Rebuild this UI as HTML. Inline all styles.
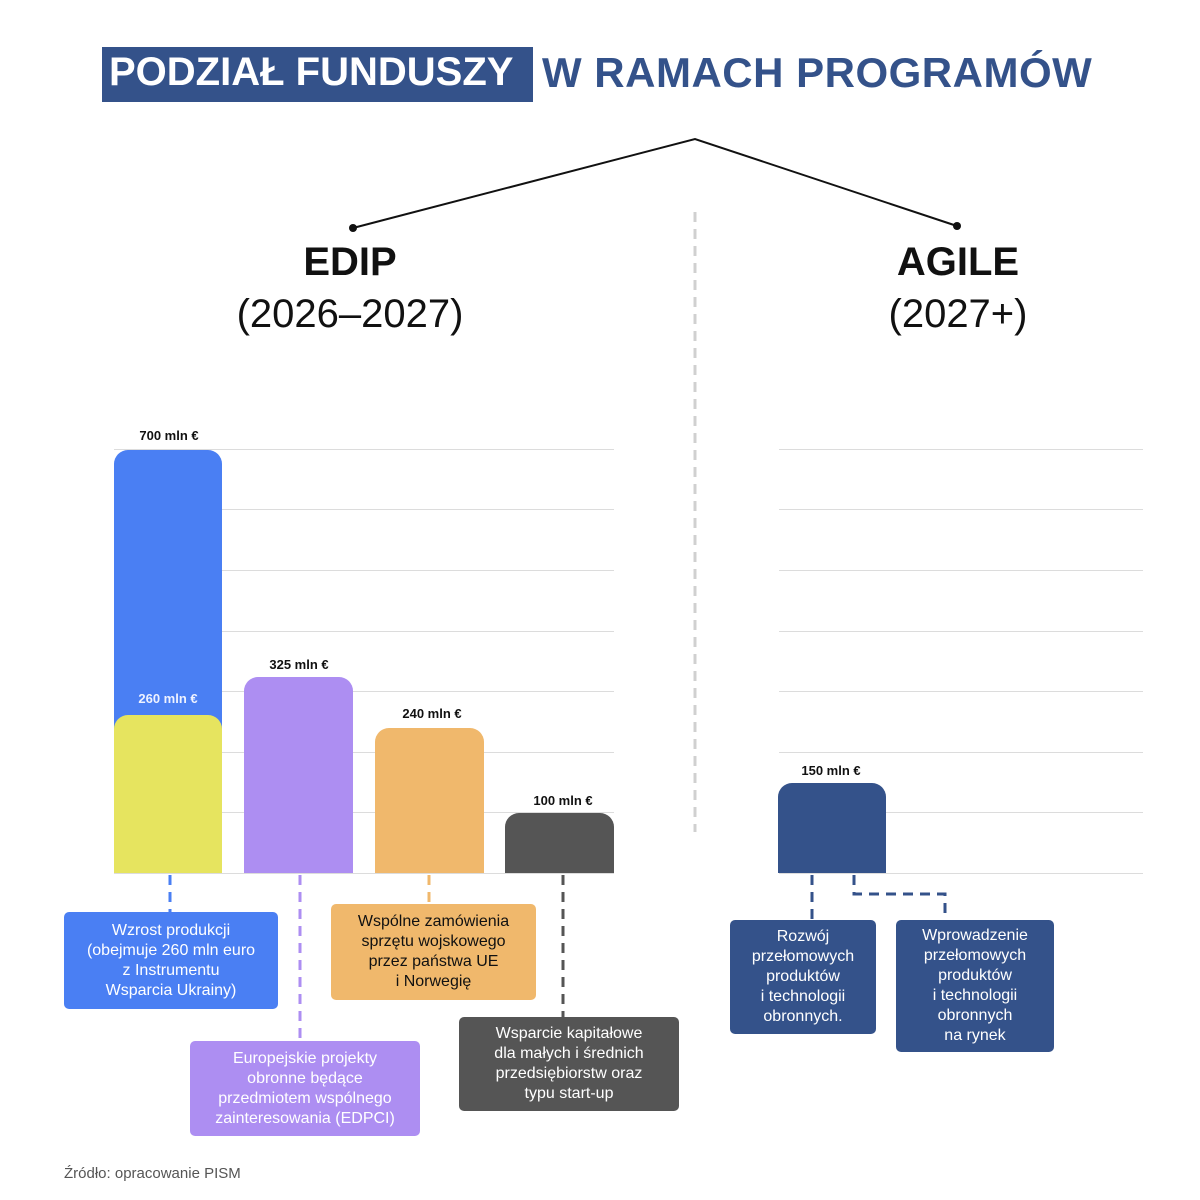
<!DOCTYPE html>
<html><head><meta charset="utf-8"><style>
body{margin:0;width:1200px;height:1200px;background:#fff;font-family:"Liberation Sans",sans-serif;position:relative;overflow:hidden}
.a{position:absolute}
.t{font-weight:bold;font-size:42px;color:#34528a;white-space:nowrap}
.g{position:absolute;height:1px;background:#dcdcdc}
.bar{position:absolute;border-radius:14px 14px 0 0}
.lab{position:absolute;font-size:13px;font-weight:bold;color:#111;text-align:center;width:120px}
.box{position:absolute;border-radius:5px;color:#fff;font-size:16px;line-height:20px;text-align:center;display:flex;align-items:center;justify-content:center}
</style></head><body>
<div class="a" style="left:102px;top:47px;width:431px;height:55px;background:#34528a"></div>
<div class="a t" style="left:109px;top:50px;color:#fff;font-size:40px">PODZIAŁ FUNDUSZY</div>
<div class="a t" style="left:542px;top:49px;letter-spacing:0.5px">W RAMACH PROGRAMÓW</div>
<svg class="a" style="left:0;top:0" width="1200" height="1200">
<polyline points="353,228 695,139 957,226" fill="none" stroke="#111" stroke-width="2"/>
<circle cx="353" cy="228" r="4" fill="#111"/><circle cx="957" cy="226" r="4" fill="#111"/>
<line x1="695" y1="212" x2="695" y2="832" stroke="#d0d0d0" stroke-width="3" stroke-dasharray="10,7"/>
<g stroke-width="3" stroke-dasharray="10,7" fill="none">
<line x1="170" y1="875" x2="170" y2="912" stroke="#4a7ff3"/>
<line x1="300" y1="875" x2="300" y2="1041" stroke="#ad8ef2"/>
<line x1="429" y1="875" x2="429" y2="904" stroke="#f0b86c"/>
<line x1="563" y1="875" x2="563" y2="1017" stroke="#555"/>
<line x1="812" y1="875" x2="812" y2="920" stroke="#34528a"/>
<polyline points="854,875 854,894 945,894 945,920" stroke="#34528a"/>
</g>
</svg>
<div class="a" style="left:200px;top:240px;width:300px;text-align:center;font-size:40px;font-weight:bold;color:#111">EDIP</div>
<div class="a" style="left:150px;top:292px;width:400px;text-align:center;font-size:40px;color:#111">(2026–2027)</div>
<div class="a" style="left:808px;top:240px;width:300px;text-align:center;font-size:40px;font-weight:bold;color:#111">AGILE</div>
<div class="a" style="left:808px;top:292px;width:300px;text-align:center;font-size:40px;color:#111">(2027+)</div>
<div class="g" style="left:114px;width:500px;top:449px"></div>
<div class="g" style="left:222px;width:392px;top:509px"></div>
<div class="g" style="left:222px;width:392px;top:570px"></div>
<div class="g" style="left:222px;width:392px;top:631px"></div>
<div class="g" style="left:222px;width:392px;top:691px"></div>
<div class="g" style="left:222px;width:392px;top:752px"></div>
<div class="g" style="left:222px;width:392px;top:812px"></div>
<div class="g" style="left:114px;width:500px;top:873px"></div>
<div class="g" style="left:779px;width:364px;top:449px"></div>
<div class="g" style="left:779px;width:364px;top:509px"></div>
<div class="g" style="left:779px;width:364px;top:570px"></div>
<div class="g" style="left:779px;width:364px;top:631px"></div>
<div class="g" style="left:779px;width:364px;top:691px"></div>
<div class="g" style="left:779px;width:364px;top:752px"></div>
<div class="g" style="left:779px;width:364px;top:812px"></div>
<div class="g" style="left:779px;width:364px;top:873px"></div>
<div class="bar" style="left:114px;width:108px;top:450px;height:423px;background:#4a7ff3"></div>
<div class="bar" style="left:114px;width:108px;top:715px;height:158px;background:#e6e45f"></div>
<div class="bar" style="left:244px;width:109px;top:677px;height:196px;background:#ad8ef2"></div>
<div class="bar" style="left:375px;width:109px;top:728px;height:145px;background:#f0b86c"></div>
<div class="bar" style="left:505px;width:109px;top:813px;height:60px;background:#555"></div>
<div class="bar" style="left:778px;width:108px;top:783px;height:90px;background:#34528a"></div>
<div class="lab" style="left:109px;top:428px">700 mln €</div>
<div class="lab" style="left:108px;top:691px;color:#eef2ff">260 mln €</div>
<div class="lab" style="left:239px;top:657px">325 mln €</div>
<div class="lab" style="left:372px;top:706px">240 mln €</div>
<div class="lab" style="left:503px;top:793px">100 mln €</div>
<div class="lab" style="left:771px;top:763px">150 mln €</div>
<div class="box" style="left:64px;top:912px;width:214px;height:97px;background:#4a7ff3">Wzrost produkcji<br>(obejmuje 260 mln euro<br>z Instrumentu<br>Wsparcia Ukrainy)</div>
<div class="box" style="left:190px;top:1041px;width:230px;height:95px;background:#ad8ef2">Europejskie projekty<br>obronne będące<br>przedmiotem wspólnego<br>zainteresowania (EDPCI)</div>
<div class="box" style="left:331px;top:904px;width:205px;height:96px;background:#f0b86c;color:#111">Wspólne zamówienia<br>sprzętu wojskowego<br>przez państwa UE<br>i Norwegię</div>
<div class="box" style="left:459px;top:1017px;width:220px;height:94px;background:#555">Wsparcie kapitałowe<br>dla małych i średnich<br>przedsiębiorstw oraz<br>typu start-up</div>
<div class="box" style="left:730px;top:920px;width:146px;height:114px;background:#34528a">Rozwój<br>przełomowych<br>produktów<br>i technologii<br>obronnych.</div>
<div class="box" style="left:896px;top:920px;width:158px;height:132px;background:#34528a">Wprowadzenie<br>przełomowych<br>produktów<br>i technologii<br>obronnych<br>na rynek</div>
<div class="a" style="left:64px;top:1165px;font-size:15px;color:#555">Źródło: opracowanie PISM</div>
</body></html>
